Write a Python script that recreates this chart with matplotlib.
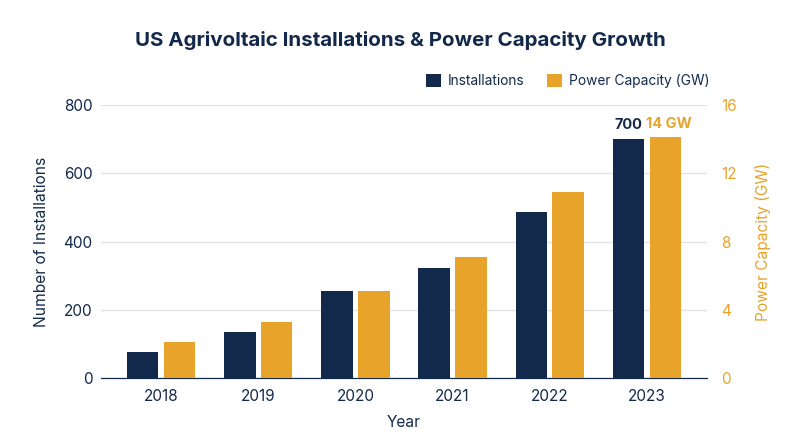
import matplotlib.pyplot as plt
import numpy as np

plt.rcParams['font.family'] = ['Inter', 'DejaVu Sans']

years = ['2018', '2019', '2020', '2021', '2022', '2023']
installations = [77, 135, 256, 322, 486, 700]
capacity_gw = [2.1, 3.3, 5.1, 7.1, 10.9, 14.1]

navy = '#13294b'
gold = '#e8a32b'

fig = plt.figure(figsize=(8, 4.47), dpi=100)
ax = fig.add_axes([0.126, 0.154, 0.758, 0.611])
ax2 = ax.twinx()

x = np.arange(len(years))
w = 0.324
off = 0.19
b1 = ax.bar(x - off, installations, w, color=navy, label='Installations', zorder=3)
b2 = ax2.bar(x + off, capacity_gw, w, color=gold, label='Power Capacity (GW)', zorder=3)

ax.set_xlim(-0.62, 5.62)
ax.set_ylim(0, 800)
ax2.set_ylim(0, 16)
ax.set_yticks([0, 200, 400, 600, 800])
ax2.set_yticks([0, 4, 8, 12, 16])
ax.set_xticks(x)
ax.set_xticklabels(years)

ax.grid(axis='y', color='#e3e3e3', linewidth=1, zorder=0)
ax.set_axisbelow(True)
for a in (ax, ax2):
    for s in ['top', 'left', 'right']:
        a.spines[s].set_visible(False)
    a.spines['bottom'].set_color(navy)
    a.tick_params(length=0)
ax.tick_params(axis='y', colors=navy, labelsize=11, pad=6)
ax.tick_params(axis='x', colors=navy, labelsize=11, pad=8)
ax2.tick_params(axis='y', colors=gold, labelsize=11, pad=10)

ax.set_ylabel('Number of Installations', color=navy, fontsize=11.2, labelpad=10)
ax2.set_ylabel('Power Capacity (GW)', color=gold, fontsize=11.2, labelpad=13)
ax.set_xlabel('Year', color=navy, fontsize=11.2, labelpad=8)

# labels on last bars
ax.text(x[-1] - off, installations[-1] + 20, str(installations[-1]), ha='center', va='bottom',
        color=navy, fontsize=10.5, fontweight='bold')
ax2.text(x[-1] + off + 0.04, capacity_gw[-1] + 0.4, '14 GW', ha='center', va='bottom',
         color=gold, fontsize=10.5, fontweight='bold')

fig.legend(handles=[b1, b2], loc='center right', bbox_to_anchor=(0.902, 0.819), ncol=2,
           frameon=False, fontsize=9.9, handlelength=1.1, handleheight=1.1,
           columnspacing=1.6, handletextpad=0.5, labelcolor=navy)

fig.suptitle('US Agrivoltaic Installations & Power Capacity Growth', x=0.5, y=0.93,
             color=navy, fontsize=14.8, fontweight='bold')

fig.savefig('out.png', dpi=100)
